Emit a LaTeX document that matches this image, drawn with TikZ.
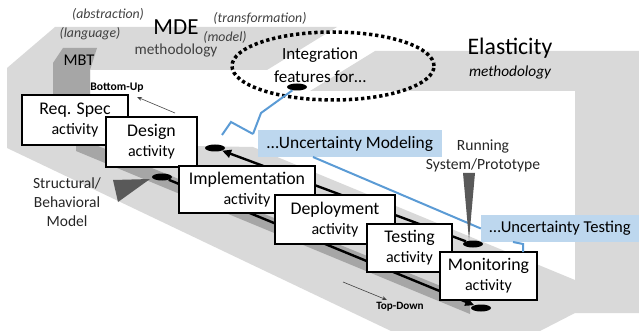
\documentclass[tikz,border=0pt]{standalone}
\usepackage{fontspec}
\setmainfont{Carlito}
\usetikzlibrary{arrows.meta,shapes.geometric}
\definecolor{lg}{HTML}{D9D9D9}
\definecolor{mg}{HTML}{A6A6A6}
\definecolor{dg}{HTML}{595959}
\definecolor{bluebox}{HTML}{BDD7EE}
\definecolor{blueline}{HTML}{5B9BD5}
\definecolor{txtgray}{HTML}{404040}
\definecolor{txtdark}{HTML}{262626}
\newcommand\fsz[2]{\fontsize{#1}{#2}\selectfont}
\newcommand\acttext[1]{\fsz{17.8}{20}#1\\[5pt]\fsz{16}{19}activity}
\tikzset{
  actbox/.style={draw=black, line width=2.6pt, fill=white, inner sep=0pt, align=center},
  bbox/.style={fill=bluebox, inner sep=0pt},
  blk/.style={fill=black, ellipse, inner sep=0pt, minimum width=20pt, minimum height=7pt},
  trk/.style={line width=2.4pt, draw=black},
  bl/.style={line width=2pt, draw=blueline},
  lbl/.style={inner sep=0pt, align=center},
  ital/.style={inner sep=0pt, text=txtgray, font=\itshape\fsz{13.8}{16}},
  thinarr/.style={draw=txtgray, line width=0.6pt, -{Stealth[length=5pt,width=4pt]}},
}
\begin{document}
\begin{tikzpicture}[x=1pt,y=-1pt]
\useasboundingbox (0,0) rectangle (639,331);
% plates
\fill[lg] (55,27) -- (337,27) -- (267,70) -- (90,70) -- (90,148) -- (7,148) -- (7,68) -- cycle;
\fill[lg] (375,51) -- (639,51) -- (639,313) -- (575,313) -- (575,91) -- (310,91) -- cycle;
\fill[mg] (63,48) -- (97,48) -- (90,70) -- (90,150) -- (53,150) -- (53,63) -- cycle;
% ramp
\fill[lg] (7,148) -- (90,140) -- (197,146) -- (253,147) -- (575,280) -- (575,313) -- (540,331) -- (391,331) -- cycle;
% dark band along the lower track
\fill[mg] (76,137) -- (470,298) -- (470,314) -- (76,151) -- cycle;
% ellipses
\node[blk] (eint) at (297,87) {};
\node[blk] (edes) at (215,148) {};
\node[blk] (eimp) at (162,177) {};
\node[blk] (etst) at (473,244) {};
\node[blk] (emon) at (481,308) {};
% tracks
\draw[trk, -{Triangle[length=9pt,width=8pt]}] (etst) -- (edes);
\draw[trk, -{Triangle[length=9pt,width=8pt]}] (eimp) -- (emon);
% dotted ellipse
\node[draw=black, ellipse, line width=3.5pt, dash pattern=on 3.3pt off 2.8pt, minimum width=202pt, minimum height=68pt, inner sep=0pt] (integ) at (333,66) {};
\node[lbl, font=\fsz{17}{23}] (integtxt) at (320,65) {Integration\\features for…};
% blue brace
\coordinate (b1) at (261,113);
\coordinate (b2) at (253,134);
\coordinate (b3) at (231,122);
\coordinate (b4) at (222,135);
\draw[bl] (eint) -- (b1) -- (b2);
\draw[bl] (b4) -- (b3) -- (b2);
% structural triangle
\fill[dg] (113,180) -- (150,179) -- (118,202) -- cycle;
% activity boxes
\node[actbox, minimum width=106pt, minimum height=50pt] (req) at (75,120) {\acttext{Req. Spec}};
\node[actbox, minimum width=91pt, minimum height=50pt] (des) at (151.5,142) {\acttext{Design}};
\node[actbox, minimum width=136pt, minimum height=47pt] (imp) at (247,189.5) {\acttext{Implementation}};
\node[actbox, minimum width=120pt, minimum height=49pt] (dep) at (335,219.5) {\acttext{Deployment}};
\node[actbox, minimum width=85pt, minimum height=48pt] (tst) at (409.5,248) {\acttext{Testing}};
\node[actbox, minimum width=97pt, minimum height=48pt] (mon) at (488.5,276) {\acttext{Monitoring}};
% blue boxes and lines
\node[bbox, minimum width=184pt, minimum height=27pt, font=\fsz{17.4}{20}] (umod) at (350,143.5) {…Uncertainty Modeling};
\node[bbox, minimum width=158pt, minimum height=27pt, font=\fsz{16.6}{20}] (utst) at (560,228.5) {…Uncertainty Testing};
\coordinate (bm) at (313,157);
\draw[bl] (bm) -- (utst.west);
\coordinate (h1) at (513,242);
\coordinate (h2) at (523,244);
\coordinate (h3) at (523,252);
\draw[bl] (h1) -- (h2) -- (h3);
\fill[dg] (463,173) -- (475,173) -- (469,240) -- cycle;
% labels
\node[ital] (abs) at (108,14) {(abstraction)};
\node[ital] (lang) at (90,34) {(language)};
\node[ital] (trans) at (260,18) {(transformation)};
\node[ital] (model) at (225,37) {(model)};
\node[lbl, font=\fsz{23}{26}] (mde) at (176,27) {MDE};
\node[lbl, font=\fsz{15.3}{18}, text=txtgray] (mdem) at (176,51) {methodology};
\node[lbl, font=\fsz{16.4}{18}] (mbt) at (79,60) {MBT};
\node[lbl, font=\fsz{23.7}{26}] (ela) at (510,48) {Elasticity};
\node[lbl, font=\itshape\fsz{15.3}{18}] (elam) at (510,73) {methodology};
\node[lbl, font=\bfseries\fsz{11.6}{13}] (bu) at (117,88) {Bottom-Up};
\node[lbl, font=\bfseries\fsz{11.2}{13}] (td) at (400,307) {Top-Down};
\node[lbl, font=\fsz{15.5}{19}, text=txtdark] (sbm) at (67,202) {Structural/\\Behavioral\\Model};
\node[lbl, font=\fsz{15.6}{19}, text=txtdark] (run) at (483,155.5) {Running\\System/Prototype};
\coordinate (bu1) at (175,113);
\coordinate (bu2) at (137,97);
\draw[thinarr] (bu1) -- (bu2);
\coordinate (td1) at (343,282);
\coordinate (td2) at (387,300);
\draw[thinarr] (td1) -- (td2);
\end{tikzpicture}
\end{document}
